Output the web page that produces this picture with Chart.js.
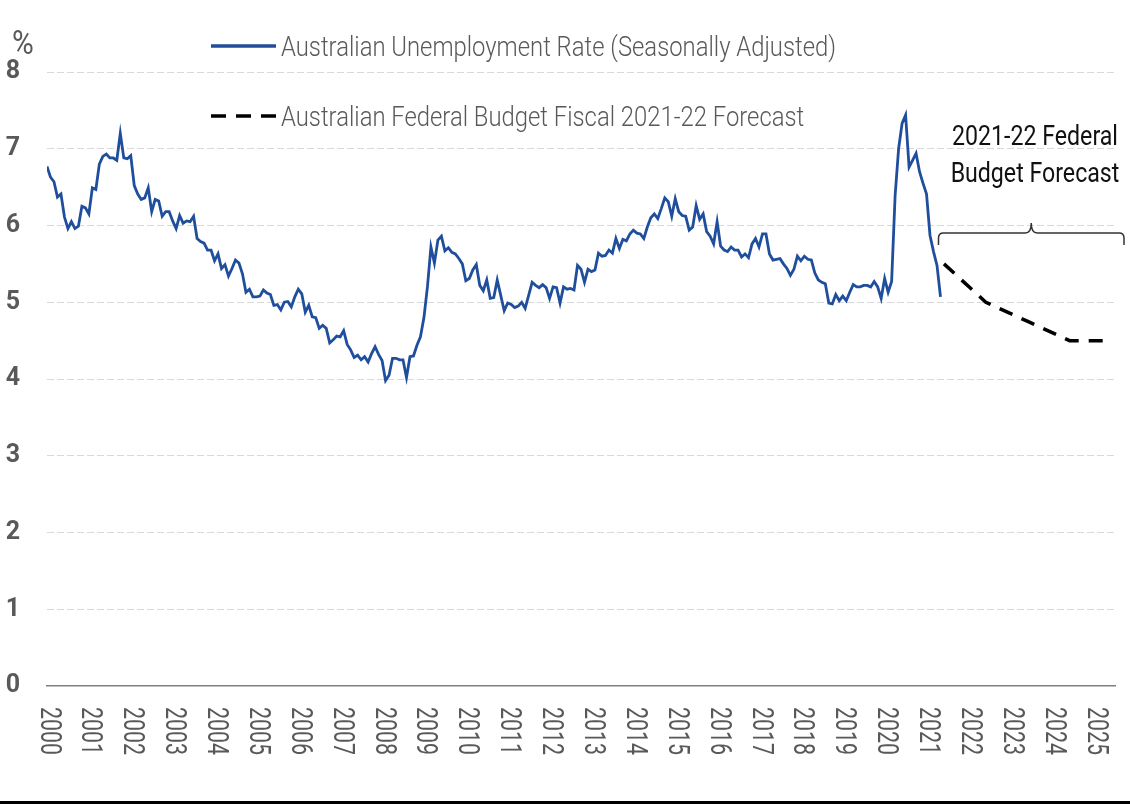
<!DOCTYPE html>
<html>
<head>
<meta charset="utf-8">
<script src="https://cdn.jsdelivr.net/npm/chart.js@4.4.1/dist/chart.umd.min.js"></script>
<style>
  html, body { margin: 0; padding: 0; background: #fff; }
  #wrap { width: 1130px; height: 804px; position: relative; }
</style>
</head>
<body>
<div id="wrap"><canvas id="unemployment-chart"></canvas></div>
<script>
// monthly unemployment rate, seasonally adjusted, from Jan 2000
var firstMonth = '2000-01';
var unemploymentRate = [
  6.77, 6.63, 6.57, 6.37, 6.41, 6.11, 5.96, 6.05, 5.96, 5.99, 6.25, 6.23, // 2000
  6.15, 6.49, 6.47, 6.80, 6.90, 6.93, 6.88, 6.88, 6.85, 7.20, 6.88, 6.87, // 2001
  6.91, 6.52, 6.41, 6.34, 6.36, 6.49, 6.18, 6.34, 6.32, 6.12, 6.18, 6.18, // 2002
  6.06, 5.96, 6.13, 6.03, 6.06, 6.05, 6.12, 5.83, 5.79, 5.77, 5.68, 5.68, // 2003
  5.54, 5.63, 5.44, 5.49, 5.34, 5.44, 5.55, 5.51, 5.37, 5.13, 5.17, 5.07, // 2004
  5.07, 5.08, 5.16, 5.12, 5.10, 4.96, 4.97, 4.90, 5.00, 5.01, 4.94, 5.07, // 2005
  5.17, 5.11, 4.87, 4.96, 4.81, 4.80, 4.66, 4.70, 4.66, 4.47, 4.51, 4.56, // 2006
  4.55, 4.63, 4.45, 4.38, 4.28, 4.31, 4.25, 4.29, 4.22, 4.33, 4.42, 4.32, // 2007
  4.24, 3.98, 4.05, 4.27, 4.27, 4.25, 4.25, 4.02, 4.29, 4.30, 4.44, 4.55, // 2008
  4.80, 5.20, 5.72, 5.51, 5.81, 5.86, 5.67, 5.71, 5.65, 5.63, 5.57, 5.50, // 2009
  5.28, 5.31, 5.42, 5.49, 5.22, 5.15, 5.29, 5.05, 5.06, 5.29, 5.09, 4.89, // 2010
  4.99, 4.97, 4.93, 4.95, 5.00, 4.92, 5.09, 5.26, 5.22, 5.19, 5.23, 5.19, // 2011
  5.05, 5.20, 5.19, 4.99, 5.20, 5.17, 5.18, 5.16, 5.48, 5.43, 5.26, 5.43, // 2012
  5.40, 5.42, 5.64, 5.60, 5.61, 5.68, 5.64, 5.83, 5.70, 5.82, 5.80, 5.89, // 2013
  5.94, 5.90, 5.89, 5.83, 5.98, 6.10, 6.15, 6.09, 6.22, 6.36, 6.31, 6.12, // 2014
  6.35, 6.18, 6.13, 6.12, 5.94, 5.98, 6.26, 6.08, 6.15, 5.92, 5.86, 5.76, // 2015
  6.05, 5.73, 5.68, 5.66, 5.72, 5.68, 5.68, 5.59, 5.63, 5.58, 5.76, 5.83, // 2016
  5.72, 5.89, 5.89, 5.63, 5.55, 5.56, 5.57, 5.50, 5.44, 5.35, 5.43, 5.60, // 2017
  5.54, 5.60, 5.56, 5.55, 5.38, 5.29, 5.26, 5.24, 4.99, 4.98, 5.10, 5.02, // 2018
  5.08, 5.02, 5.13, 5.23, 5.20, 5.20, 5.22, 5.22, 5.20, 5.27, 5.20, 5.05, // 2019
  5.31, 5.13, 5.27, 6.39, 7.00, 7.33, 7.44, 6.76, 6.85, 6.94, 6.70, 6.55, // 2020
  6.41, 5.87, 5.66, 5.48, 5.07                                            // 2021
];

// budget forecast, June of each year
var forecastMonths = ['2021-06', '2022-06', '2023-06', '2024-06', '2025-06'];
var forecastRate = [5.5, 5.0, 4.75, 4.5, 4.5];

var yearLabels = ['2000', '2001', '2002', '2003', '2004', '2005', '2006', '2007', '2008',
  '2009', '2010', '2011', '2012', '2013', '2014', '2015', '2016', '2017', '2018', '2019',
  '2020', '2021', '2022', '2023', '2024', '2025'];

var seriesNames = ['Australian Unemployment Rate (Seasonally Adjusted)',
  'Australian Federal Budget Fiscal 2021-22 Forecast'];
var noteLines = ['2021-22 Federal', 'Budget Forecast'];

// 'YYYY-MM' -> decimal year
function toYear(m) {
  var p = m.split('-');
  return +p[0] + (+p[1] - 1) / 12;
}

var start = toYear(firstMonth);
var actualPoints = unemploymentRate.map(function (v, i) { return { x: start + i / 12, y: v }; });
var forecastPoints = forecastRate.map(function (v, i) { return { x: toYear(forecastMonths[i]), y: v }; });

var grey = '#595959';
var blue = '#1f4e9c';

// narrow text, squeezed sideways
function narrowText(ctx, text, x, y, squeeze, align) {
  ctx.save();
  ctx.translate(x, y);
  ctx.scale(squeeze, 1);
  ctx.textAlign = align || 'left';
  ctx.fillText(text, 0, 0);
  ctx.restore();
}

var extras = {
  id: 'extras',
  afterDraw: function (chart) {
    var ctx = chart.ctx;
    var xs = chart.scales.x;
    var area = chart.chartArea;
    var ds = chart.data.datasets;

    // legend
    ctx.save();
    ctx.font = '300 27px Roboto';
    var sq = 555 / ctx.measureText(ds[0].label).width;
    var rows = [56, 126];
    ds.forEach(function (d, i) {
      var ly = rows[i] - 10;
      ctx.save();
      ctx.strokeStyle = d.borderColor;
      ctx.lineWidth = 3.5;
      ctx.setLineDash(d.borderDash ? [15, 10] : []);
      ctx.beginPath();
      ctx.moveTo(211, ly);
      ctx.lineTo(276, ly);
      ctx.stroke();
      ctx.restore();
      ctx.fillStyle = grey;
      ctx.textBaseline = 'alphabetic';
      narrowText(ctx, d.label, 281, rows[i], sq);
    });

    // % unit
    ctx.font = '33px Roboto';
    ctx.fillStyle = grey;
    narrowText(ctx, '%', 12, 54, 0.9);

    // note and brace
    ctx.font = '28px Roboto';
    ctx.fillStyle = '#111';
    var nsq = 166 / ctx.measureText(noteLines[0]).width;
    narrowText(ctx, noteLines[0], 1035, 145, nsq, 'center');
    narrowText(ctx, noteLines[1], 1035, 182, nsq, 'center');

    var L = xs.getPixelForValue(toYear('2021-05')) - 2;
    var R = area.right + 9;
    var M = (L + R) / 2;
    var by = 233;
    ctx.strokeStyle = '#333';
    ctx.lineWidth = 1.5;
    ctx.beginPath();
    ctx.moveTo(L, 245);
    ctx.lineTo(L, by + 5);
    ctx.quadraticCurveTo(L, by, L + 5, by);
    ctx.lineTo(M - 6, by);
    ctx.quadraticCurveTo(M, by, M, by - 10);
    ctx.quadraticCurveTo(M, by, M + 6, by);
    ctx.lineTo(R - 5, by);
    ctx.quadraticCurveTo(R, by, R, by + 5);
    ctx.lineTo(R, 245);
    ctx.stroke();

    // rotated year labels
    ctx.font = '30px Roboto';
    ctx.fillStyle = grey;
    var ysq = 48 / ctx.measureText('2000').width;
    yearLabels.forEach(function (t) {
      var px = xs.getPixelForValue(+t);
      ctx.save();
      ctx.translate(px + 1, area.bottom + 21);
      ctx.rotate(Math.PI / 2);
      ctx.scale(ysq, 1);
      ctx.textAlign = 'left';
      ctx.textBaseline = 'middle';
      ctx.fillText(t, 0, 0);
      ctx.restore();
    });

    // bottom rule
    ctx.fillStyle = '#000';
    ctx.fillRect(0, 801, chart.width, 3);
    ctx.restore();
  }
};

var ctx = document.getElementById('unemployment-chart');

var myChart = new Chart(ctx, {
  type: 'line',
  data: {
    datasets: [
      {
        label: seriesNames[0],
        data: actualPoints,
        borderColor: blue,
        borderWidth: 2.8,
        pointRadius: 0,
        tension: 0,
        fill: false
      },
      {
        label: seriesNames[1],
        data: forecastPoints,
        borderColor: '#000',
        borderWidth: 3.5,
        borderDash: [14, 10],
        pointRadius: 0,
        tension: 0,
        fill: false
      }
    ]
  },
  options: {
    responsive: true,
    maintainAspectRatio: false,
    animation: false,
    layout: { padding: { top: 72, right: 15, left: 0, bottom: 0 } },
    plugins: {
      legend: { display: false },
      tooltip: { enabled: false }
    },
    scales: {
      x: {
        type: 'linear',
        min: 2000,
        max: 2025.5,
        ticks: { display: false, stepSize: 1 },
        grid: { display: false, drawTicks: false },
        border: { display: true, color: '#808080', width: 1.5 },
        afterFit: function (s) { s.height = 118; }
      },
      y: {
        min: 0,
        max: 8,
        ticks: {
          stepSize: 1,
          padding: 27,
          color: grey,
          font: { family: 'Roboto', size: 25, weight: 'bold' }
        },
        grid: {
          drawTicks: false,
          lineWidth: 1,
          color: function (c) { return c.tick && c.tick.value === 0 ? 'rgba(0,0,0,0)' : '#d9d9d9'; }
        },
        border: { display: false, dash: [7, 3] },
        afterFit: function (s) { s.width = 47; }
      }
    }
  },
  plugins: [extras]
});
</script>
</body>
</html>
